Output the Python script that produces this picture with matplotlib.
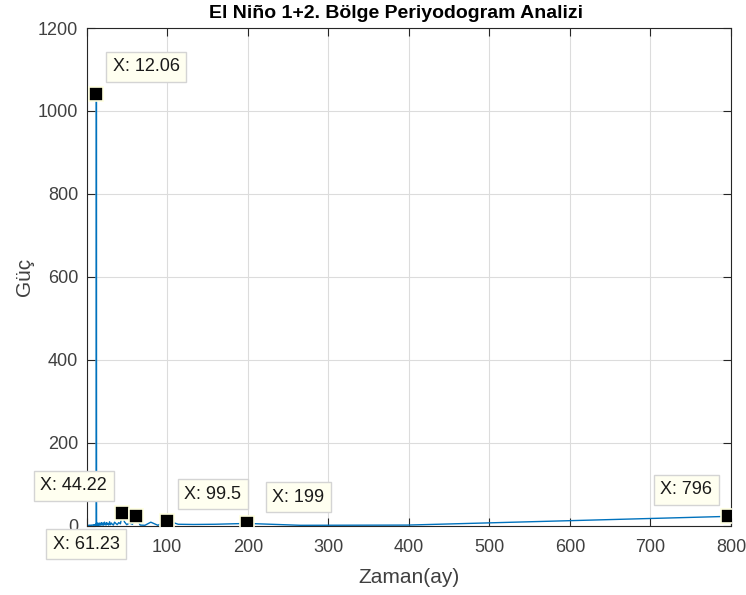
import matplotlib.pyplot as plt

# periodogram: period (months) and power
period = [796, 398, 265.3, 199, 159.2, 132.7, 113.7, 99.5, 88.44, 79.6,
          72.36, 66.33, 61.23, 56.86, 53.07, 49.75, 46.82, 44.22, 41.89, 39.8,
          37.9, 36.18, 34.6, 33.17, 31.84, 30.6, 29.5, 28.4, 27.4, 26.5,
          25.7, 24.9, 24.1, 23.4, 22.7, 22.1, 21.5, 20.9, 20.4, 19.9,
          19.4, 18.9, 18.5, 18.1, 17.7, 17.3, 16.9, 16.6, 16.2, 15.9,
          15.6, 15.3, 15.0, 14.7, 14.5, 14.2, 14.0, 13.7, 13.5, 13.3,
          13.0, 12.8, 12.6, 12.4, 12.25, 12.06, 11.88, 11.7, 11.5, 11.2,
          11.0, 10.5, 10.0, 9.5, 9.0, 8.5, 8.0, 7.5, 7.0, 6.5,
          6.0, 5.5, 5.0, 4.5, 4.0, 3.5, 3.0, 2.5, 2.0]
power = [22, 1, 0.5, 5, 3, 2.5, 3, 12, 0.5, 8,
         0.5, 1, 22, 3, 6, 2, 9, 29, 4, 7,
         2, 5, 8, 1, 3, 6, 2, 9, 1, 4,
         3, 7, 1, 5, 2, 8, 3, 1, 6, 2,
         4, 1, 7, 3, 2, 5, 1, 3, 6, 2,
         1, 4, 2, 5, 1, 3, 2, 6, 1, 2,
         3, 1, 2, 4, 2, 1040, 3, 1, 2, 1,
         3, 1, 2, 1, 1, 2, 1, 1, 0.5, 1,
         0.5, 1, 0.5, 0.5, 1, 0.5, 0.5, 0.5, 0.3]

# data tips: period value, label, offset of the box (points)
tip_x = [12.06, 44.22, 61.23, 99.5, 199, 796]
tip_y = [1040, 29, 22, 12, 5, 22]
tip_label = ['X: 12.06', 'X: 44.22', 'X: 61.23', 'X: 99.5', 'X: 199', 'X: 796']
tip_offset = [(36, 20), (-35, 20), (-36, -20), (33, 19), (37, 19), (-30, 19)]

x_ticks = [0, 100, 200, 300, 400, 500, 600, 700, 800]
x_ticklabels = ['', '100', '200', '300', '400', '500', '600', '700', '800']

plt.rcParams['font.family'] = ['Liberation Sans', 'DejaVu Sans']

fig = plt.figure(figsize=(7.46, 5.95), dpi=100)
ax = fig.add_axes([0.1162, 0.1168, 0.8637, 0.8361])

ax.plot(period, power, color='#0072BD', lw=1.0)

for x, y, lab, off in zip(tip_x, tip_y, tip_label, tip_offset):
    ax.plot(x, y, 's', ms=9.5, color='black', mec='#FFFFE0', mew=1.2, zorder=5)
    ax.annotate(lab, xy=(x, y), xytext=off, textcoords='offset points',
                ha='center', va='center', fontsize=13, color='#1a1a1a',
                bbox=dict(boxstyle='square,pad=0.36', fc='#FFFFF0', ec='#D4D4D4', lw=1),
                annotation_clip=False, zorder=6)

ax.set_xlim(0, 800)
ax.set_ylim(0, 1200)
ax.set_xticks(x_ticks)
ax.set_xticklabels(x_ticklabels)
ax.set_yticks(range(0, 1201, 200))
ax.grid(True, color='#DCDCDC', lw=0.8)
ax.set_axisbelow(True)
for s in ax.spines.values():
    s.set_color('#262626')
    s.set_linewidth(0.8)
ax.tick_params(direction='in', length=6, width=0.8, colors='#262626',
               labelcolor='#404040', labelsize=13, top=True, right=True)
ax.tick_params(axis='x', pad=10)
ax.tick_params(axis='y', pad=6)

ax.set_title('El Niño 1+2. Bölge Periyodogram Analizi', fontsize=14,
             fontweight='bold', color='black', pad=7, x=0.48)
ax.set_xlabel('Zaman(ay)', fontsize=15, color='#404040', labelpad=8)
ax.set_ylabel('Güç', fontsize=15, color='#404040', labelpad=3)

fig.savefig('out.png', dpi=100)
